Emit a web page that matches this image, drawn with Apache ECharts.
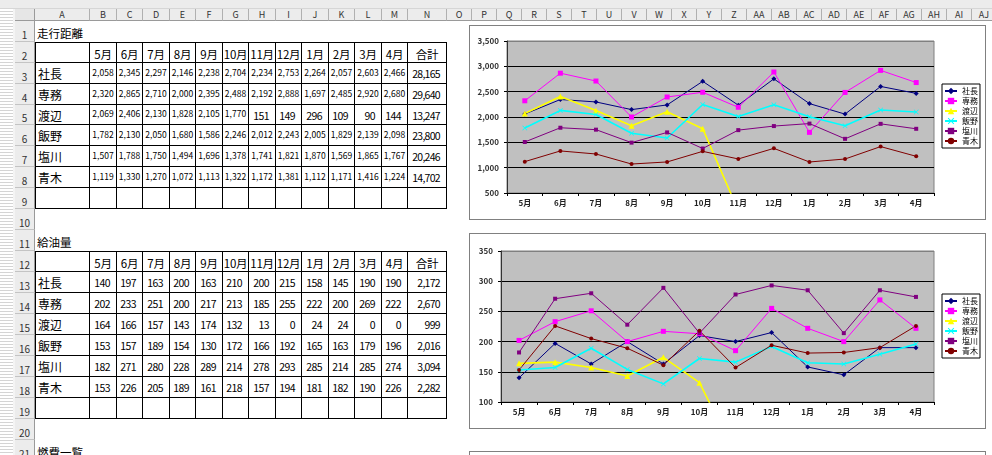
<!DOCTYPE html>
<html>
<head>
<meta charset="utf-8">
<script src="https://cdn.jsdelivr.net/npm/echarts@6/dist/echarts.min.js"></script>
<style>
html,body{margin:0;padding:0;width:992px;height:455px;overflow:hidden;background:#fff;
  font-family:"Noto Sans CJK JP","Noto Sans",sans-serif;}
#sheet{position:absolute;left:0;top:0;width:992px;height:455px;}
.abs{position:absolute;box-sizing:border-box;white-space:nowrap;overflow:hidden;}
.chartbox{position:absolute;box-sizing:border-box;border:1px solid #808080;background:#fff;}
.chart{position:absolute;}
</style>
</head>
<body>
<div id="sheet"></div>
<div class="chartbox" style="left:469px;top:25px;width:517px;height:195px;"></div>
<div class="chartbox" style="left:469px;top:233px;width:517px;height:196px;"></div>
<div class="chartbox" style="left:469px;top:451px;width:517px;height:30px;"></div>
<div id="kmChart" class="chart" style="left:470px;top:26px;width:515px;height:193px;"></div>
<div id="fuelChart" class="chart" style="left:470px;top:234px;width:515px;height:194px;"></div>
<script>
// ---- data ----
const months = ['5月','6月','7月','8月','9月','10月','11月','12月','1月','2月','3月','4月'];
const staff = ['社長','専務','渡辺','飯野','塩川','青木'];

// 走行距離 (km per month)
const kmShacho   = [2058,2345,2297,2146,2238,2704,2234,2753,2264,2057,2603,2466];
const kmSenmu    = [2320,2865,2710,2000,2395,2488,2192,2888,1697,2485,2920,2680];
const kmWatanabe = [2069,2406,2130,1828,2105,1770,151,149,296,109,90,144];
const kmIino     = [1782,2130,2050,1680,1586,2246,2012,2243,2005,1829,2139,2098];
const kmShiokawa = [1507,1788,1750,1494,1696,1378,1741,1821,1870,1569,1865,1767];
const kmAoki     = [1119,1330,1270,1072,1113,1322,1172,1381,1112,1171,1416,1224];
const kmTotals   = [28165,29640,13247,23800,20246,14702];

// 給油量 (litres per month)
const fuelShacho   = [140,197,163,200,163,210,200,215,158,145,190,190];
const fuelSenmu    = [202,233,251,200,217,213,185,255,222,200,269,222];
const fuelWatanabe = [164,166,157,143,174,132,13,0,24,24,0,0];
const fuelIino     = [153,157,189,154,130,172,166,192,165,163,179,196];
const fuelShiokawa = [182,271,280,228,289,214,278,293,285,214,285,274];
const fuelAoki     = [153,226,205,189,161,218,157,194,181,182,190,226];
const fuelTotals   = [2172,2670,999,2016,3094,2282];

// value axis tick labels
const kmTicks   = [500,1000,1500,2000,2500,3000,3500];
const fuelTicks = [100,150,200,250,300,350];

const kmRows   = [kmShacho,kmSenmu,kmWatanabe,kmIino,kmShiokawa,kmAoki];
const fuelRows = [fuelShacho,fuelSenmu,fuelWatanabe,fuelIino,fuelShiokawa,fuelAoki];

// ---- worksheet ----
const sheet = document.getElementById('sheet');
function box(x, y, w, h, css, text) {
  const d = document.createElement('div');
  d.className = 'abs';
  d.style.cssText = `left:${x}px;top:${y}px;width:${w}px;height:${h}px;` + (css || '');
  if (text != null) d.textContent = text;
  sheet.appendChild(d);
  return d;
}
const fmt = v => v.toLocaleString('en-US');

// column edges: A, B..M, N, then O onwards
const colEdges = [35, 90];
for (let k = 1; k <= 12; k++) colEdges.push(90 + k * 26.5);
colEdges.push(447);
for (let k = 1; k <= 22; k++) colEdges.push(447 + k * 25);
const colName = i => i < 26 ? String.fromCharCode(65 + i) : 'A' + String.fromCharCode(39 + i);
const rowTop = n => Math.round(20.7 + (n - 1) * 20.95);

// window frame strips
box(0, 0, 992, 9, 'background:#ececec;border-bottom:1px solid #d6d6d6;');
box(0, 9, 13, 446, 'background:repeating-linear-gradient(#ffffff 0 2px,#d4d4d4 2px 3px);');
box(13, 9, 2, 446, 'background:#f4f4f4;');

// column header row
box(15, 9, 20, 12, 'background:#e6e6e6;border-right:1px solid #9a9a9a;border-bottom:1px solid #9a9a9a;');
for (let i = 0; i < 36; i++) {
  const x = Math.round(colEdges[i]), w = Math.round(colEdges[i + 1]) - x;
  box(x, 9, w, 12,
    'background:#ececec;border-right:1px solid #b0b0b0;border-bottom:1px solid #9a9a9a;' +
    'font-size:9px;line-height:11px;text-align:center;color:#333;', colName(i));
}
// row header column
for (let n = 1; n <= 21; n++) {
  const y = n === 1 ? 21 : rowTop(n), h = rowTop(n + 1) - y;
  const d = box(15, y, 20, h,
    'background:#ececec;border-right:1px solid #9a9a9a;border-bottom:1px solid #c4c4c4;' +
    'font-size:10px;text-align:center;color:#333;');
  const t = document.createElement('div');
  t.style.cssText = `position:absolute;left:0;right:0;top:${h - 13}px;line-height:12px;`;
  t.textContent = n;
  d.appendChild(t);
}

// section titles
function title(row, text) {
  const y = rowTop(row);
  box(37, y, 120, rowTop(row + 1) - y, 'font-size:11.5px;line-height:20px;padding-top:2px;color:#000;', text);
}
title(1, '走行距離');
title(11, '給油量');
title(21, '燃費一覧');

// bordered tables
function table(startRow, rows, totals, smallBig) {
  for (let r = 0; r < 8; r++) {
    const y = rowTop(startRow + r), h = rowTop(startRow + r + 1) - y;
    for (let c = 0; c < 14; c++) {
      const x = Math.round(colEdges[c]), w = Math.round(colEdges[c + 1]) - x;
      let css = 'border-right:1px solid #000;border-bottom:1px solid #000;color:#000;';
      if (r === 0) css += 'border-top:1px solid #000;';
      if (c === 0) css += 'border-left:1px solid #000;';
      let text = null;
      if (r === 0) {
        if (c >= 1 && c <= 12) text = months[c - 1];
        if (c === 13) text = '合計';
        css += `font-size:11.5px;letter-spacing:-0.3px;line-height:${h - 3}px;padding-top:2px;text-align:center;`;
      } else if (r <= 6) {
        const i = r - 1;
        if (c === 0) {
          text = staff[i];
          css += `font-size:12px;line-height:${h - 3}px;padding-top:2px;padding-left:2px;text-align:left;`;
        } else if (c <= 12) {
          const v = rows[i][c - 1];
          text = fmt(v);
          if (smallBig && v >= 1000) {
            css += `font-size:8.5px;letter-spacing:0.1px;line-height:${h - 3}px;padding-top:0px;text-align:center;`;
          } else {
            css += `font-size:10.5px;letter-spacing:-0.6px;line-height:${h - 3}px;padding-top:2px;padding-right:6px;text-align:right;`;
          }
        } else {
          text = fmt(totals[i]);
          css += `font-size:10.5px;letter-spacing:-0.7px;line-height:${h - 3}px;padding-top:2px;padding-right:6px;text-align:right;`;
        }
      }
      box(x, y, w, h, css, text);
    }
  }
}
table(2, kmRows, kmTotals, true);
table(12, fuelRows, fuelTotals, false);

// ---- charts ----
const palette = ['#000080','#ff00ff','#ffff00','#00ffff','#800080','#800000'];
const xMark = 'path://M0 1L1 0L5 4L9 0L10 1L6 5L10 9L9 10L5 6L1 10L0 9L4 5Z';
const marks = ['diamond','rect','triangle',xMark,'rect','circle'];
const sizes = [5,5,6,5,4,4];
const font = '"Noto Sans CJK JP","Noto Sans",sans-serif';

function buildOption(rows, ticks, grid, legendTop) {
  const step = ticks[1] - ticks[0];
  const splitColors = ticks.map((t, i) => i === ticks.length - 1 ? '#808080' : '#000000');
  return {
    animation: false,
    textStyle: { fontFamily: font },
    grid: Object.assign({ show: true, backgroundColor: '#c0c0c0', borderColor: '#808080', borderWidth: 1 }, grid),
    legend: {
      orient: 'vertical', left: 472, top: legendTop,
      data: staff, selectedMode: false,
      backgroundColor: '#fff', borderColor: '#000', borderWidth: 1,
      padding: [3, 2, 3, 2], itemWidth: 12, itemHeight: 8, itemGap: 2,
      textStyle: { fontSize: 8, lineHeight: 8, color: '#000', fontFamily: font }
    },
    xAxis: {
      type: 'category', data: months, boundaryGap: true,
      axisLine: { lineStyle: { color: '#000', width: 1 } },
      axisTick: { show: true, length: 3, lineStyle: { color: '#000' } },
      axisLabel: { fontSize: 8, fontWeight: 'bold', color: '#222', margin: 6, interval: 0 },
      splitLine: { show: false }
    },
    yAxis: {
      type: 'value', min: ticks[0], max: ticks[ticks.length - 1], interval: step,
      axisLine: { show: true, lineStyle: { color: '#333' } },
      axisTick: { show: true, length: 3, lineStyle: { color: '#000' } },
      axisLabel: { fontSize: 8, fontWeight: 'bold', color: '#333', margin: 8, formatter: v => fmt(v) },
      splitLine: { show: true, lineStyle: { color: splitColors, width: 1 } }
    },
    series: rows.map((data, i) => ({
      name: staff[i], type: 'line', data,
      symbol: marks[i], symbolSize: sizes[i], showSymbol: true, clip: true,
      lineStyle: { color: palette[i], width: (i === 2 || i === 3) ? 1.6 : 1 },
      itemStyle: { color: palette[i] },
      emphasis: { disabled: true }
    }))
  };
}

const kmChart = echarts.init(document.getElementById('kmChart'));
kmChart.setOption(buildOption(kmRows, kmTicks, { left: 37, top: 15, width: 427, height: 152 }, 58));

const fuelChart = echarts.init(document.getElementById('fuelChart'));
fuelChart.setOption(buildOption(fuelRows, fuelTicks, { left: 31, top: 17, width: 433, height: 151 }, 60));
</script>
</body>
</html>
